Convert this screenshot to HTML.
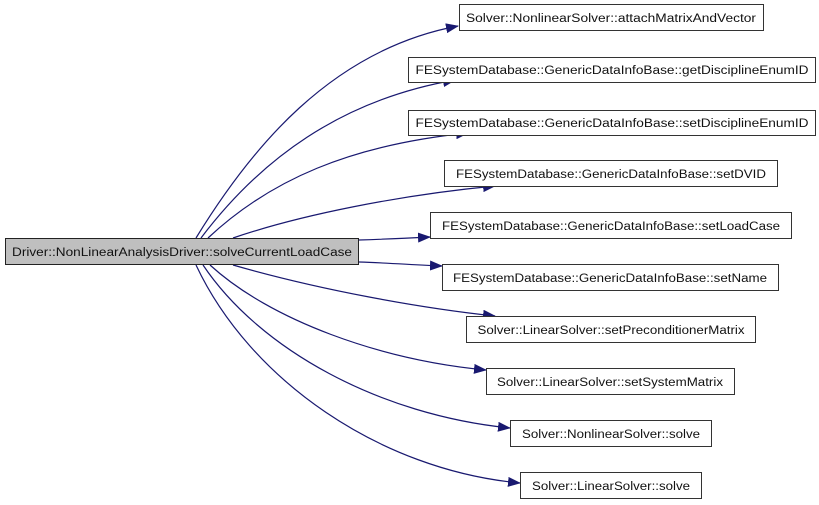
<!DOCTYPE html>
<html><head><meta charset="utf-8"><style>
html,body{margin:0;padding:0;background:#fff;}
svg{display:block;}
text{font-family:"Liberation Sans",sans-serif;font-size:11.5px;fill:#111;}
</style></head><body>
<svg width="819" height="505" viewBox="0 0 819 505" xmlns="http://www.w3.org/2000/svg">
<defs><marker id="a" markerWidth="13" markerHeight="10" refX="12" refY="5" orient="auto" markerUnits="userSpaceOnUse"><path d="M0,0 L13,5 L0,10 z" fill="#191970"/></marker></defs>
<g fill="none" stroke="#191970" stroke-width="1.2" marker-end="url(#a)">
<path d="M196,238 C250,150 330,50 458,26"/>
<path d="M201,238 C260,160 340,100 455,80"/>
<path d="M208,238 C270,180 350,145 468,133"/>
<path d="M233,238 C300,215 400,195 495,186"/>
<path d="M359,240 C390,239 410,238 430,237"/>
<path d="M359,262 C390,263 415,265 442,266"/>
<path d="M233,265 C320,290 420,308 495,316"/>
<path d="M210,265 C270,320 380,360 486,370"/>
<path d="M203,265 C260,350 380,415 510,428"/>
<path d="M196,265 C250,380 380,470 520,483"/>
</g>
<g stroke-width="1">
<rect x="5.5" y="238.5" width="353" height="26" fill="#bfbfbf" stroke="#222"/>
<rect x="459.5" y="4.5" width="304" height="26" fill="#fff" stroke="#333"/>
<rect x="408.5" y="57.5" width="407" height="25" fill="#fff" stroke="#333"/>
<rect x="408.5" y="110.5" width="407" height="25" fill="#fff" stroke="#333"/>
<rect x="444.5" y="160.5" width="333" height="26" fill="#fff" stroke="#333"/>
<rect x="430.5" y="212.5" width="361" height="26" fill="#fff" stroke="#333"/>
<rect x="442.5" y="264.5" width="336" height="26" fill="#fff" stroke="#333"/>
<rect x="466.5" y="316.5" width="289" height="26" fill="#fff" stroke="#333"/>
<rect x="486.5" y="368.5" width="248" height="26" fill="#fff" stroke="#333"/>
<rect x="510.5" y="420.5" width="201" height="26" fill="#fff" stroke="#333"/>
<rect x="520.5" y="472.5" width="181" height="26" fill="#fff" stroke="#333"/>
</g>
<g text-anchor="middle">
<text x="182" y="256" textLength="340" lengthAdjust="spacingAndGlyphs">Driver::NonLinearAnalysisDriver::solveCurrentLoadCase</text>
<text x="611" y="22" textLength="290" lengthAdjust="spacingAndGlyphs">Solver::NonlinearSolver::attachMatrixAndVector</text>
<text x="612" y="74" textLength="393" lengthAdjust="spacingAndGlyphs">FESystemDatabase::GenericDataInfoBase::getDisciplineEnumID</text>
<text x="612" y="127" textLength="393" lengthAdjust="spacingAndGlyphs">FESystemDatabase::GenericDataInfoBase::setDisciplineEnumID</text>
<text x="611" y="178" textLength="310" lengthAdjust="spacingAndGlyphs">FESystemDatabase::GenericDataInfoBase::setDVID</text>
<text x="611" y="230" textLength="338" lengthAdjust="spacingAndGlyphs">FESystemDatabase::GenericDataInfoBase::setLoadCase</text>
<text x="610" y="282" textLength="314" lengthAdjust="spacingAndGlyphs">FESystemDatabase::GenericDataInfoBase::setName</text>
<text x="611" y="334" textLength="267" lengthAdjust="spacingAndGlyphs">Solver::LinearSolver::setPreconditionerMatrix</text>
<text x="610" y="386" textLength="226" lengthAdjust="spacingAndGlyphs">Solver::LinearSolver::setSystemMatrix</text>
<text x="611" y="438" textLength="178" lengthAdjust="spacingAndGlyphs">Solver::NonlinearSolver::solve</text>
<text x="611" y="490" textLength="158" lengthAdjust="spacingAndGlyphs">Solver::LinearSolver::solve</text>
</g>
</svg>
</body></html>
